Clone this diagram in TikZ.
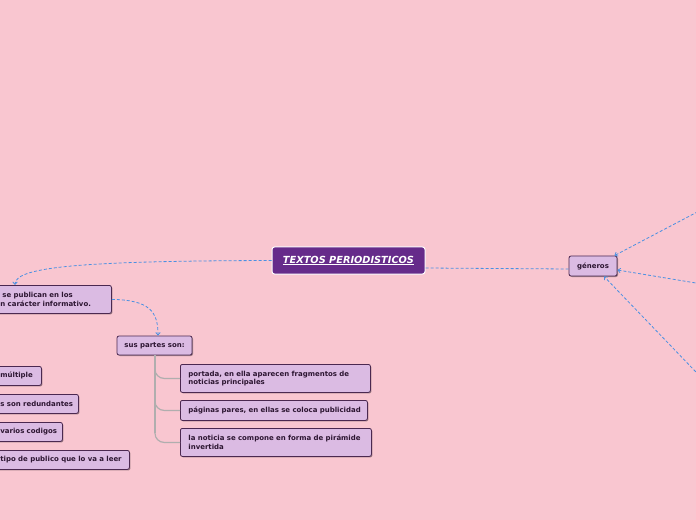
\documentclass[tikz,border=0pt]{standalone}
\usepackage{fontspec}
\setmainfont{DejaVu Sans}
\usetikzlibrary{arrows.meta,shadows}
\definecolor{bg}{RGB}{249,198,208}
\definecolor{nodefill}{RGB}{219,187,227}
\definecolor{nodeborder}{RGB}{75,40,80}
\definecolor{nodetext}{RGB}{45,22,50}
\definecolor{mainfill}{RGB}{102,43,138}
\definecolor{linkc}{RGB}{74,144,226}
\definecolor{treec}{RGB}{176,174,174}
\begin{document}
\begin{tikzpicture}[x=1bp,y=-1bp,
  topic/.style={draw=nodeborder, line width=0.8bp, fill=nodefill, rounded corners=2bp,
    font=\bfseries\fontsize{7}{8.5}\selectfont, text=nodetext, inner xsep=8bp, inner ysep=0bp,
    drop shadow={shadow xshift=1bp,shadow yshift=-1bp,fill=black,opacity=0.35}},
  wide/.style={topic, align=left, text width=#1},
  maintopic/.style={draw=white, line width=1bp, fill=mainfill, rounded corners=2.5bp,
    font=\bfseries\itshape\fontsize{9.8}{11}\selectfont, text=white, inner sep=0bp,
    minimum width=153bp, minimum height=27bp},
  link/.style={draw=linkc, line width=0.8bp, dash pattern=on 3bp off 2bp},
  tip/.style={-{Straight Barb[length=2.5bp,width=4.5bp]}},
  trunk/.style={draw=treec, line width=2.8bp},
  branch/.style={draw=treec, line width=1.2bp, rounded corners=9bp}
]
\useasboundingbox (0,0) rectangle (696,520);
\fill[bg] (0,0) rectangle (696,520);
\clip (0,0) rectangle (696,520);

% nodes
\node[maintopic] (main) at (348.5,260.5) {\underline{TEXTOS PERIODISTICOS}};
\node[wide=103bp, anchor=north west, minimum height=28bp] (pub) at (-8,285)
  {\mbox{\hspace*{2bp}se publican en los}\\\mbox{n carácter informativo.}};
\node[topic, minimum width=75bp, minimum height=19bp, inner xsep=2bp] (sus) at (154.5,345.5) {sus partes son:};
\node[wide=174bp, anchor=north west, minimum height=28bp] (p1) at (180,364)
  {\mbox{portada, en ella aparecen fragmentos de}\\\mbox{noticias principales}};
\node[wide=171bp, anchor=north west, minimum height=20bp] (p2) at (180,400)
  {\mbox{páginas pares, en ellas se coloca publicidad}};
\node[wide=175bp, anchor=north west, minimum height=28bp] (p3) at (180,428)
  {\mbox{la noticia se compone en forma de pirámide}\\\mbox{invertida}};
\node[topic, minimum width=48bp, minimum height=20bp, inner xsep=2bp] (gen) at (593,266) {géneros};
\node[wide=33bp, anchor=north west, minimum height=19bp] (l1) at (-8,366) {\mbox{múltiple}};
\node[wide=70bp, anchor=north west, minimum height=19bp] (l2) at (-8,394) {\mbox{s son redundantes}};
\node[wide=54bp, anchor=north west, minimum height=19bp] (l3) at (-8,422) {\mbox{varios codigos}};
\node[wide=121bp, anchor=north west, minimum height=19bp] (l4) at (-8,450) {\mbox{tipo de publico que lo va a leer}};

% off-canvas sources
\coordinate (g1) at (720,200);
\coordinate (g2) at (720,287);
\coordinate (g3) at (720,397);

% connectors
\draw[link,tip] (main.west) .. controls (90,261) and (15,266) .. ([xshift=23bp]pub.north west);
\draw[link,tip] (pub.east) .. controls (150,300) and (158,312) .. ([xshift=3.5bp]sus.north);
\draw[link] ([yshift=-7.5bp]main.east) -- ([yshift=-3bp]gen.west);
\draw[link,tip] (g1) -- ([xshift=-3bp]gen.north east);
\draw[link,tip] (g2) -- ([yshift=-4bp]gen.east);
\draw[link,tip] (g3) -- ([xshift=11bp]gen.south);

% tree
\draw[branch] ([xshift=0.5bp]sus.south) |- (p1.west);
\draw[branch] ([xshift=0.5bp]sus.south) |- (p2.west);
\draw[branch] ([xshift=0.5bp]sus.south) |- (p3.west);
\draw[trunk] ([xshift=0.5bp]sus.south) -- ([xshift=0.5bp,yshift=9bp]sus.south |- p3.west);
\end{tikzpicture}
\end{document}
